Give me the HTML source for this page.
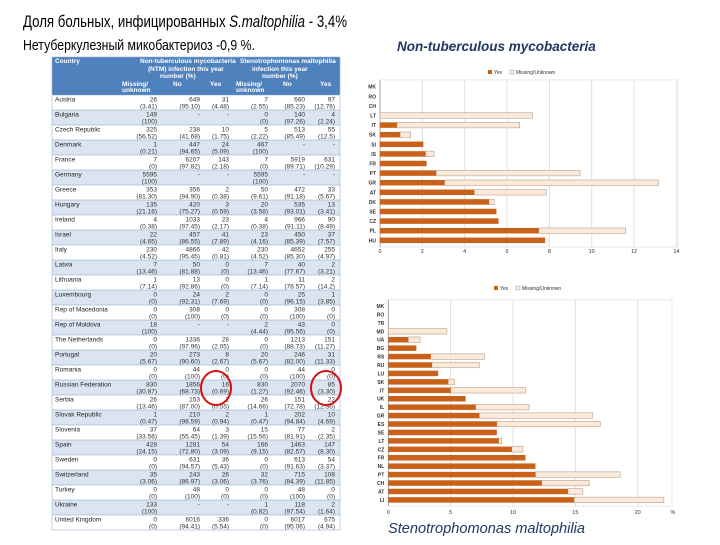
<!DOCTYPE html>
<html><head><meta charset="utf-8">
<style>
html,body{margin:0;padding:0;background:#fff;}
body{width:720px;height:540px;overflow:hidden;position:relative;font-family:"Liberation Sans","Noto Sans CJK SC",sans-serif;}
svg text{font-family:"Liberation Sans","Noto Sans CJK SC",sans-serif;}
</style></head>
<body>
<svg id="s" width="720" height="540" xmlns="http://www.w3.org/2000/svg">
<text x="23" y="27" font-size="17" fill="#000" textLength="324" lengthAdjust="spacingAndGlyphs">Доля больных, инфицированных <tspan font-style="italic">S.maltophilia</tspan> -  3,4%</text>
<text x="23" y="50" font-size="15" fill="#000" textLength="232" lengthAdjust="spacingAndGlyphs">Нетуберкулезный микобактериоз -0,9 %.</text>
<text x="397" y="51" font-size="13.5" font-style="italic" font-weight="bold" fill="#1f3864">Non-tuberculous mycobacteria</text>
<text x="388" y="533" font-size="15" font-style="italic" fill="#1f3864" textLength="197" lengthAdjust="spacingAndGlyphs">Stenotrophomonas maltophilia</text>
<g id="table"></g>
<g id="c1"></g>
<g id="c2"></g>
<ellipse cx="216" cy="388" rx="15" ry="17" fill="none" stroke="#d01010" stroke-width="2"/>
<ellipse cx="326" cy="388" rx="15" ry="17" fill="none" stroke="#d01010" stroke-width="2"/>
</svg>
<script>
const NS="http://www.w3.org/2000/svg";
function mk(p,t,a,txt){const e=document.createElementNS(NS,t);for(const k in a)e.setAttribute(k,a[k]);if(txt!==undefined)e.textContent=txt;p.appendChild(e);return e;}

// ---- table data ----
const countries=["Austria","Bulgaria","Czech Republic","Denmark","France","Germany","Greece","Hungary","Ireland","Israel","Italy","Latvia","Lithuania","Luxembourg","Rep of Macedonia","Rep of Moldova","The Netherlands","Portugal","Romania","Russian Federation","Serbia","Slovak Republic","Slovenia","Spain","Sweden","Switzerland","Turkey","Ukraine","United Kingdom"];
const tblCols=[["26","649","31","7","660","97"],["149","-","-","0","140","4"],["325","238","10","5","513","55"],["1","447","24","467","-","-"],["7","6207","143","7","5919","631"],["5595","-","-","5595","-","-"],["353","356","2","50","472","33"],["135","420","3","20","535","13"],["4","1033","23","4","966","90"],["22","457","41","23","450","37"],["230","4866","42","230","4652","255"],["7","50","0","7","40","2"],["1","13","0","1","11","2"],["0","24","2","0","25","1"],["0","308","0","0","308","0"],["18","-","-","2","43","0"],["0","1336","28","0","1213","151"],["20","273","8","20","246","31"],["0","44","0","0","44","0"],["830","1856","16","830","2070","85"],["26","153","1","26","151","22"],["1","210","2","1","202","10"],["37","64","3","15","77","2"],["428","1281","54","166","1463","147"],["0","631","36","0","613","54"],["35","243","26","32","715","108"],["0","48","0","0","48","0"],["133","-","-","1","118","2"],["0","6016","336","0","6017","675"]];
const tblPct=[["(3.41)","(95.10)","(4.48)","(2.55)","(85.23)","(12.76)"],["(100)","","","(0)","(97.26)","(2.24)"],["(56.52)","(41.68)","(1.75)","(2.22)","(85.49)","(12.5)"],["(0.21)","(94.65)","(5.09)","(100)","",""],["(0)","(97.82)","(2.18)","(0)","(89.71)","(10.29)"],["(100)","","","(100)","",""],["(81.30)","(94.90)","(0.38)","(9.61)","(91.18)","(5.67)"],["(21.16)","(75.27)","(0.59)","(3.58)","(93.01)","(3.41)"],["(0.38)","(97.45)","(2.17)","(0.38)","(91.11)","(8.49)"],["(4.65)","(86.55)","(7.89)","(4.16)","(85.39)","(7.57)"],["(4.52)","(95.45)","(0.81)","(4.52)","(85.30)","(4.97)"],["(13.46)","(81.88)","(0)","(13.46)","(77.67)","(3.21)"],["(7.14)","(92.86)","(0)","(7.14)","(78.57)","(14.2)"],["(0)","(92.31)","(7.69)","(0)","(96.15)","(3.85)"],["(0)","(100)","(0)","(0)","(100)","(0)"],["(100)","","","(4.44)","(95.56)","(0)"],["(0)","(97.96)","(2.05)","(0)","(88.73)","(11.27)"],["(5.67)","(90.60)","(2.67)","(5.67)","(82.00)","(11.33)"],["(0)","(100)","(0)","(0)","(100)","(0)"],["(30.87)","(68.73)","(0.69)","(1.27)","(92.46)","(3.30)"],["(13.46)","(87.00)","(0.55)","(14.66)","(72.78)","(12.36)"],["(0.47)","(98.59)","(0.94)","(0.47)","(94.84)","(4.69)"],["(33.56)","(55.45)","(1.39)","(15.56)","(81.91)","(2.35)"],["(24.15)","(72.80)","(3.09)","(9.15)","(82.57)","(8.30)"],["(0)","(94.57)","(5.43)","(0)","(91.63)","(3.37)"],["(3.06)","(86.97)","(3.06)","(3.76)","(84.39)","(11.85)"],["(0)","(100)","(0)","(0)","(100)","(0)"],["(100)","","","(0.82)","(97.54)","(1.64)"],["(0)","(94.41)","(5.54)","(0)","(95.06)","(4.94)"]];

const T=document.getElementById('table');
const tx0=52,tx1=340,hy0=57,rowH=15,ry0=95;
const colRight=[157,200,229,268,305,335];
let h=mk(T,'rect',{x:tx0,y:hy0,width:tx1-tx0,height:ry0-hy0,fill:'#4f81bd'});


const hdr=[[55,63,"Country"],[140,63,"Non-tuberculous mycobacteria"],[148,71,"(NTM) infection this year"],[160,78,"number (%)"],[240,63,"Stenotrophomonas maltophilia"],[252,71,"infection this year"],[262,78,"number (%)"],[122,86,"Missing/"],[122,92,"unknown"],[173,86,"No"],[210,86,"Yes"],[236,86,"Missing/"],[236,92,"unknown"],[283,86,"No"],[320,86,"Yes"]];
hdr.forEach(a=>{mk(T,'text',{x:a[0],y:a[1],'font-size':6.5,fill:'#fff','font-weight':'bold'},a[2]);});
countries.forEach((c,i)=>{
  const y=ry0+i*rowH;
  const r=mk(T,'rect',{x:tx0,y:y,width:tx1-tx0,height:rowH,fill:i%2?'#dbe5f1':'#fff'});
  
  
  mk(T,'line',{x1:tx0,x2:tx1,y1:y,y2:y,stroke:'#7ea3cf','stroke-width':0.6});
  mk(T,'text',{x:55,y:y+6.5,'font-size':6.5,fill:'#222'},c);
  for(let k=0;k<6;k++){
    mk(T,'text',{x:colRight[k],y:y+6.5,'font-size':6.5,fill:'#333','text-anchor':'end'},tblCols[i][k]);
    if(tblPct[i][k])mk(T,'text',{x:colRight[k],y:y+13.5,'font-size':6.5,fill:'#333','text-anchor':'end'},tblPct[i][k]);
  }
});
mk(T,'rect',{x:tx0,y:hy0,width:tx1-tx0,height:ry0+29*rowH-hy0,fill:'none',stroke:'#9bb3d4','stroke-width':0.6});

// ---- chart 1 data ----
const c1Labels=["MK","RO","CH","LT","IT","SK","SI","IS","FR","PT","GR","AT","DK","SE","CZ","PL","HU"];
const c1Yes=[0,0,0,0,0.8,0.95,2.05,2.15,2.2,2.65,3.05,4.45,5.15,5.5,5.6,7.5,7.8];
const c1Total=[0,0,0,7.2,6.6,1.45,2.05,2.55,2.2,9.45,13.15,7.85,5.4,5.5,5.6,11.6,7.8];
const c1Ticks=["0","2","4","6","8","10","12","14"];
// ---- chart 2 data ----
const c2Labels=["MK","RO","TR","MD","UA","BG","RS","RU","LU","SK","IT","UK","IL","GR","ES","SE","LT","CZ","FR","NL","PT","CH","AT","LI"];
const c2Yes=[0,0,0,0,1.6,2.25,3.4,3.5,4.0,4.8,5.0,6.2,7.0,7.3,8.7,8.7,8.85,9.9,11.0,11.8,11.8,12.3,14.4,14.9];
const c2Total=[0,0,0,4.7,2.55,2.25,7.7,7.3,4.0,5.3,11.0,6.2,11.3,16.4,17.0,8.7,9.1,10.8,11.0,11.8,18.6,16.1,15.6,22.1];
const c2Ticks=["0","5","10","15","20"];

function chart(g,cfg,labels,yes,total,ticks,step){
  const sx=v=>cfg.x0+v*cfg.ppu;
  const sy=i=>cfg.y0+i*cfg.rowH;
  const bottom=sy(labels.length-1)+cfg.rowH/2+2;
  const top=cfg.y0-cfg.rowH/2-2;
  mk(g,'rect',{x:cfg.x0,y:top,width:cfg.right-cfg.x0,height:bottom-top,fill:'none',stroke:'#e4e4e4','stroke-width':0.8});
  ticks.forEach((t,k)=>{
    const x=sx(k*step);
    const gl=mk(g,'line',{x1:x,x2:x,y1:top,y2:bottom,stroke:'#e0e0e0','stroke-width':1});
    
    
    const tl=mk(g,'text',{x:x,y:cfg.tickY,'font-size':5.5,fill:'#333','text-anchor':'middle'},t);
    
    
  });
  mk(g,'line',{x1:cfg.x0,x2:cfg.x0,y1:top,y2:bottom,stroke:'#999','stroke-width':0.8});
  labels.forEach((l,i)=>{
    const y=sy(i);
    const lb=mk(g,'text',{x:cfg.x0-4,y:y+2,'font-size':5,fill:'#333','text-anchor':'end','font-weight':'bold'},l);
    
    
    if(total[i]>yes[i]){
      const b=mk(g,'rect',{x:sx(yes[i]),y:y-cfg.bh/2,width:sx(total[i])-sx(yes[i]),height:cfg.bh,fill:'#fde9d9',stroke:'#b9a08a','stroke-width':0.6});
      
      
    }
    if(yes[i]>0){
      const b=mk(g,'rect',{x:sx(0),y:y-cfg.bh/2,width:sx(yes[i])-sx(0),height:cfg.bh,fill:'#c8621a'});
      
      
    }
  });
  const lg=mk(g,'g',{});
  
  
  mk(lg,'rect',{x:cfg.legX,y:cfg.legY-4,width:4,height:4,fill:'#c8621a'});
  mk(lg,'text',{x:cfg.legX+6,y:cfg.legY,'font-size':5,fill:'#333'},'Yes');
  mk(lg,'rect',{x:cfg.legX+22,y:cfg.legY-4,width:4,height:4,fill:'#fde9d9',stroke:'#999','stroke-width':0.5});
  mk(lg,'text',{x:cfg.legX+28,y:cfg.legY,'font-size':5,fill:'#333'},'Missing/Unknown');
}
chart(document.getElementById('c1'),{x0:380,ppu:21.17,y0:86.7,rowH:9.6,bh:5.5,right:678,tickY:253,legX:488,legY:74},c1Labels,c1Yes,c1Total,c1Ticks,2);
chart(document.getElementById('c2'),{x0:388.3,ppu:12.47,y0:306,rowH:8.43,bh:5.5,right:672,tickY:514,legX:494,legY:290},c2Labels,c2Yes,c2Total,c2Ticks,5);
const pct=mk(document.getElementById('c2'),'text',{x:673,y:514,'font-size':5.5,fill:'#333','text-anchor':'middle'},'%');


</script>
</body></html>
